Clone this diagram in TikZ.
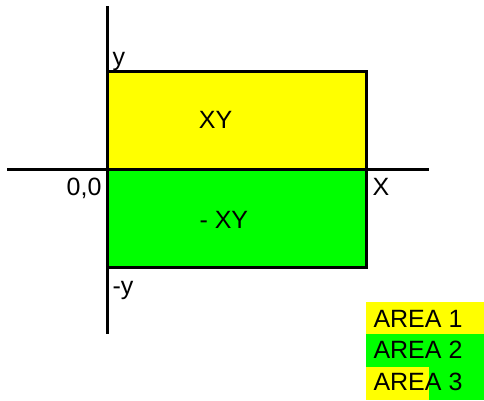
\documentclass[tikz,border=0pt]{standalone}
\usepackage{fontspec}
\setmainfont{Liberation Sans}
\usetikzlibrary{positioning}
\definecolor{cyellow}{HTML}{FFFF00}
\definecolor{cgreen}{HTML}{00FF00}
\tikzset{
  every picture/.style={line width=3pt},
  lbl/.style={font=\fontsize{25}{29}\selectfont, inner sep=0pt, anchor=base west},
  axis/.style={draw=black, line width=3pt},
}
\begin{document}
\begin{tikzpicture}[x=1pt, y=-1pt]
  \useasboundingbox (0,0) rectangle (484,400);
  % ---------- areas ----------
  \fill[cyellow] (107,71) rectangle (366,169);
  \fill[cgreen] (107,169) rectangle (366,267);
  \draw[axis] (107,71) rectangle (366,267);
  \node[lbl, anchor=base] (xy) at (215.5,128) {XY};
  \node[lbl] (mxy) at (198,228) {- XY};
  % ---------- axes ----------
  \draw[axis] (7,169) -- (429,169);
  \draw[axis] (107,6) -- (107,334);
  \node[lbl] (ylab) at (111,65) {y};
  \node[lbl] (mylab) at (111,294) {-y};
  \node[lbl] (xlab) at (371,195) {X};
  \node[lbl, anchor=base east] (orig) at (103,195) {0,0};
  % ---------- legend ----------
  \fill[cyellow] (366,302) rectangle (484,334);
  \fill[cgreen] (366,334) rectangle (484,367);
  \fill[cyellow] (366,367) rectangle (429,400);
  \fill[cgreen] (429,367) rectangle (484,400);
  \node[lbl] (area1) at (372,327) {AREA 1};
  \node[lbl] (area2) at (372,358) {AREA 2};
  \node[lbl] (area3) at (372,390) {AREA 3};
\end{tikzpicture}
\end{document}
